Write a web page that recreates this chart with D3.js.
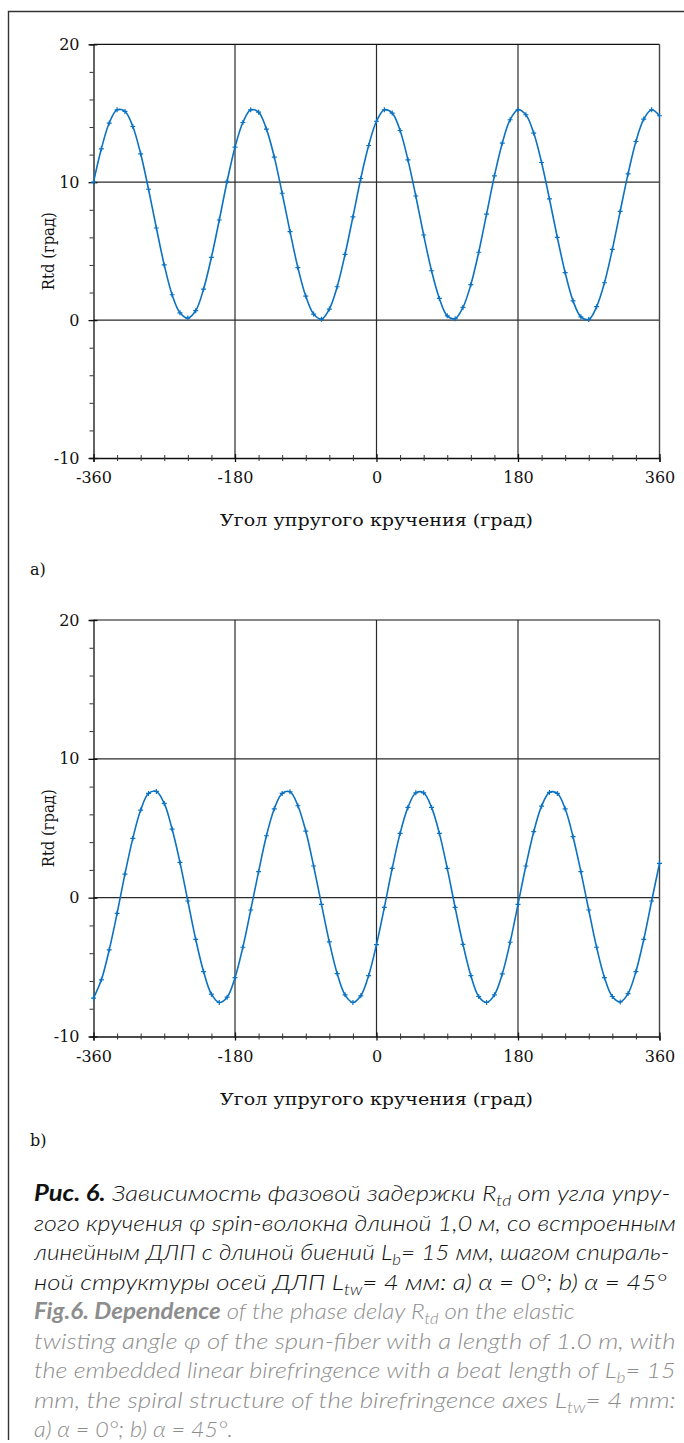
<!DOCTYPE html>
<html><head><meta charset="utf-8">
<script src="https://cdn.jsdelivr.net/npm/d3@7"></script>
<style>body{margin:0;background:#fff}svg{display:block}</style>
</head><body>
<svg id="chart" width="684" height="1443"></svg>
<script>
// ---------- DATA ----------
const angles = [-360,-350,-340,-330,-320,-310,-300,-290,-280,-270,-260,-250,-240,-230,-220,-210,-200,-190,-180,-170,-160,-150,-140,-130,-120,-110,-100,-90,-80,-70,-60,-50,-40,-30,-20,-10,0,10,20,30,40,50,60,70,80,90,100,110,120,130,140,150,160,170,180,190,200,210,220,230,240,250,260,270,280,290,300,310,320,330,340,350,360];
const rtdA = [10.0,12.42,14.29,15.25,15.13,14.04,12.06,9.49,6.68,4.0,1.84,0.53,0.15,0.68,2.25,4.55,7.26,10.07,12.54,14.33,15.25,15.08,13.85,11.82,9.2,6.42,3.8,1.74,0.44,0.07,0.8,2.42,4.77,7.48,10.27,12.66,14.42,15.25,15.01,13.75,11.62,9.0,6.17,3.58,1.57,0.31,0.1,0.92,2.57,4.92,7.68,10.46,12.83,14.53,15.25,14.89,13.56,11.43,8.79,6.0,3.44,1.4,0.24,0.05,0.97,2.71,5.13,7.89,10.6,12.95,14.58,15.25,14.82];
const rtdB = [-7.24,-5.92,-3.76,-1.13,1.70,4.27,6.31,7.51,7.65,6.79,4.94,2.54,-0.24,-3.0,-5.32,-6.95,-7.55,-7.17,-5.76,-3.57,-0.89,1.87,4.46,6.4,7.51,7.63,6.62,4.8,2.28,-0.48,-3.19,-5.47,-7.0,-7.55,-7.07,-5.61,-3.38,-0.70,2.11,4.63,6.5,7.55,7.55,6.5,4.63,2.11,-0.70,-3.36,-5.61,-7.12,-7.55,-7.0,-5.49,-3.21,-0.48,2.28,4.75,6.59,7.58,7.51,6.4,4.39,1.87,-0.89,-3.57,-5.76,-7.12,-7.51,-6.91,-5.32,-3.0,-0.24,2.47];
const xMajorTicks = [-360,-180,0,180,360];
const xMinorTicks = [-330,-300,-270,-240,-210,-150,-120,-90,-60,-30,30,60,90,120,150,210,240,270,300,330];
const yMajorTicks = [-10,0,10,20];
const yMinorTicks = [-8,-6,-4,-2,2,4,6,8,12,14,16,18];
const xGrid = [-180,0,180];
const yGrid = [0,10];
const xDomain = [-360,360];
const yDomain = [-10,20];
const xTitle = "Угол упругого кручения (град)";
const yTitle = "Rtd (град)";
const panelLabels = ["a)","b)"];

// ---------- DRAW ----------
const svg = d3.select("#chart");
svg.append("rect").attr("width",684).attr("height",1443).attr("fill","#fff");
svg.append("path").attr("d","M8.5,1440 V11.5 H684").attr("fill","none").attr("stroke","#333").attr("stroke-width",1.4);

const x = d3.scaleLinear().domain(xDomain).range([93.5,659.5]);
const serif = "'DejaVu Serif', 'Liberation Serif', serif";
const lineColor = "#0b72c2";

function fitText(sel, tx, ty, target){
  const w = sel.node().getComputedTextLength();
  sel.attr("transform", `translate(${tx},${ty}) scale(${target/w},1)`);
}

function panel(values, top, bottom, label, labelY){
  const y = d3.scaleLinear().domain(yDomain).range([bottom, top]);
  const g = svg.append("g");
  g.selectAll(null).data(yGrid).join("line")
    .attr("x1",x(-360)).attr("x2",x(360)).attr("y1",d=>y(d)).attr("y2",d=>y(d))
    .attr("stroke","#2a2a2a").attr("stroke-width",1.2);
  g.selectAll(null).data(xGrid).join("line")
    .attr("x1",d=>x(d)).attr("x2",d=>x(d)).attr("y1",y(20)).attr("y2",y(-10))
    .attr("stroke","#2a2a2a").attr("stroke-width",1.2);
  g.append("line").attr("x1",x(-360)).attr("x2",x(360)).attr("y1",y(20)).attr("y2",y(20)).attr("stroke","#111").attr("stroke-width",1.2);
  g.append("line").attr("x1",x(360)).attr("x2",x(360)).attr("y1",y(20)).attr("y2",y(-10)).attr("stroke","#444").attr("stroke-width",1.4);

  const ya = g.append("g").attr("transform",`translate(${x(-360)},0)`)
    .call(d3.axisLeft(y).tickValues(yMajorTicks).tickSize(4).tickPadding(10).tickFormat(d=>String(d)));
  ya.select(".domain").attr("stroke","#111").attr("stroke-width",1.3);
  ya.selectAll(".tick line").attr("x1",4).attr("x2",-5).attr("stroke","#111").attr("stroke-width",1.3);
  ya.selectAll(".tick text").attr("font-family",serif).attr("font-size",16).attr("fill","#111");
  const ym = g.append("g").attr("transform",`translate(${x(-360)},0)`)
    .call(d3.axisLeft(y).tickValues(yMinorTicks).tickSize(4).tickFormat(""));
  ym.select(".domain").remove();
  ym.selectAll(".tick line").attr("stroke","#333").attr("stroke-width",1);

  const xa = g.append("g").attr("transform",`translate(0,${y(-10)})`)
    .call(d3.axisBottom(x).tickValues(xMajorTicks).tickSize(4).tickPadding(10).tickFormat(d=>String(d)));
  xa.select(".domain").attr("stroke","#111").attr("stroke-width",1.3);
  xa.selectAll(".tick line").attr("y1",-4).attr("y2",4).attr("stroke","#111").attr("stroke-width",1.3);
  xa.selectAll(".tick text").attr("font-family",serif).attr("font-size",16).attr("fill","#111");
  const xm = g.append("g").attr("transform",`translate(0,${y(-10)})`)
    .call(d3.axisBottom(x).tickValues(xMinorTicks).tickSize(3).tickFormat(""));
  xm.select(".domain").remove();
  xm.selectAll(".tick line").attr("y1",-3).attr("y2",3).attr("stroke","#333").attr("stroke-width",1);

  const xt = g.append("text").text(xTitle).attr("text-anchor","middle")
    .attr("font-family",serif).attr("font-size",16).attr("fill","#111");
  fitText(xt, 376.5, bottom + 68, 313);
  const yt = g.append("text").text(yTitle).attr("text-anchor","middle")
    .attr("font-family",serif).attr("font-size",16).attr("fill","#111");
  const w = yt.node().getComputedTextLength();
  yt.attr("transform",`translate(54,${(top+bottom)/2}) rotate(-90) scale(${78/w},1)`);
  g.append("text").text(label).attr("x",30).attr("y",labelY)
    .attr("font-family",serif).attr("font-size",16).attr("fill","#111");

  const pts = angles.map((a,i)=>[a, values[i]]);
  g.append("path").datum(pts)
    .attr("d", d3.line().x(d=>x(d[0])).y(d=>y(d[1])).curve(d3.curveCatmullRom))
    .attr("fill","none").attr("stroke",lineColor).attr("stroke-width",1.6);
  g.selectAll(null).data(pts).join("path")
    .attr("d", d=>`M${x(d[0])-2.5},${y(d[1])}h5M${x(d[0])},${y(d[1])-2.5}v5`)
    .attr("stroke",lineColor).attr("stroke-width",1.2);
}

panel(rtdA, 44.3, 458, panelLabels[0], 575);
panel(rtdB, 620, 1036.5, panelLabels[1], 1146);

// ---------- CAPTION ----------
const capFont = "Lato, 'Open Sans', sans-serif";
const caption = [
  {c:"#111", w:637, parts:[{t:"Рис. 6.",b:1},{t:" Зависимость фазовой задержки R"},{t:"td",s:1},{t:" от угла упру-"}]},
  {c:"#111", w:642, parts:[{t:"гого кручения φ spin-волокна длиной 1,0 м, со встроенным"}]},
  {c:"#111", w:636, parts:[{t:"линейным ДЛП с длиной биений L"},{t:"b",s:1},{t:"= 15 мм, шагом спираль-"}]},
  {c:"#111", w:633, parts:[{t:"ной структуры осей ДЛП L"},{t:"tw",s:1},{t:"= 4 мм: a) α = 0°; b) α = 45°"}]},
  {c:"#8d8d8d", w:541, parts:[{t:"Fig.6. Dependence",b:1},{t:" of the phase delay R"},{t:"td",s:1},{t:" on the elastic"}]},
  {c:"#8d8d8d", w:642, parts:[{t:"twisting angle φ of the spun-fiber with a length of 1.0 m, with"}]},
  {c:"#8d8d8d", w:642, parts:[{t:"the embedded linear birefringence with a beat length of L"},{t:"b",s:1},{t:"= 15"}]},
  {c:"#8d8d8d", w:642, parts:[{t:"mm, the spiral structure of the birefringence axes L"},{t:"tw",s:1},{t:"= 4 mm:"}]},
  {c:"#8d8d8d", w:199, parts:[{t:"a) α = 0°; b) α = 45°."}]}
];
const capBase = [1201,1230.5,1260,1289.5,1319,1348.5,1378,1407.5,1437];
caption.forEach((ln,i)=>{
  const t = svg.append("text").attr("font-family",capFont).attr("font-size",22)
    .attr("font-style","italic").attr("font-weight",300).attr("fill",ln.c);
  let shifted = false;
  ln.parts.forEach(p=>{
    const ts = t.append("tspan").text(p.t);
    if(p.b) ts.attr("font-weight",700);
    if(p.s){ ts.attr("font-size",15).attr("dy",5); shifted = true; }
    else if(shifted){ ts.attr("dy",-5); shifted = false; }
  });
  const w = t.node().getComputedTextLength();
  t.attr("transform",`translate(34,${capBase[i]}) scale(${ln.w/w},1)`);
});
</script>
</body></html>
